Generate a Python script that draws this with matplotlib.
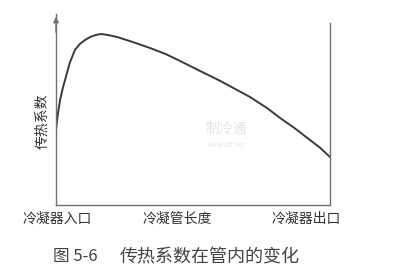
import matplotlib.pyplot as plt

plt.rcParams['font.family'] = ['Noto Sans CJK SC', 'DejaVu Sans']

# curve: position along tube (0..1) vs heat transfer coef (arbitrary units)
pos = [0.0, 0.004, 0.009, 0.015, 0.024, 0.033, 0.05, 0.069, 0.087, 0.106, 0.125, 0.145, 0.165,
       0.19, 0.223, 0.28, 0.343, 0.4, 0.453, 0.526, 0.6, 0.708, 0.77, 0.818, 0.87, 0.927, 0.965, 1.0]
coef = [75, 85, 95, 105, 116, 125, 142, 155, 161, 165, 168, 170, 171,
        170, 168, 163, 157, 151, 144, 134, 124, 108, 97, 87, 77, 65, 57, 48]

xlabels = ['冷凝器入口', '冷凝管长度', '冷凝器出口']
ylabel = '传热系数'
fig_no = '图 5-6'
caption = '传热系数在管内的变化'

W, H = 398, 270
fig = plt.figure(figsize=(W / 100, H / 100), dpi=100)
ax = fig.add_axes([56 / W, (H - 205) / H, 274 / W, 191 / H])
ax.set_xlim(0, 1)
ax.set_ylim(0, 191)

ax.plot(pos, coef, color='#3a3a3a', lw=1.4, solid_capstyle='round')

axcol = '#707070'
for s in ['top', 'right']:
    ax.spines[s].set_visible(False)
ax.spines['left'].set_color(axcol)
ax.spines['bottom'].set_color(axcol)
ax.spines['left'].set_linewidth(1.0)
ax.spines['bottom'].set_linewidth(1.0)
ax.set_xticks([])
ax.set_yticks([])

# right boundary line (condenser outlet)
ax.plot([1, 1], [0, 182], color=axcol, lw=1.0, clip_on=False)
# arrow on y axis
ax.annotate('', xy=(0, 191), xytext=(0, 170),
            arrowprops=dict(arrowstyle='-|>', color=axcol, lw=1.0, mutation_scale=8),
            annotation_clip=False)

fig.text(42 / W, 1 - 121 / H, ylabel, rotation=90, ha='center', va='center',
         fontsize=10, color='#333333')
for xp, lab in zip([57, 177, 306], xlabels):
    fig.text(xp / W, 1 - 219 / H, lab, ha='center', va='center', fontsize=10, color='#333333')
fig.text(53 / W, 1 - 257 / H, fig_no, ha='left', va='center', fontsize=12, color='#444444')
fig.text(120 / W, 1 - 257 / H, caption, ha='left', va='center', fontsize=13, color='#444444')

# faint watermark
fig.text(226 / W, 1 - 129 / H, '制冷通', ha='center', va='center', fontsize=10, color='#e4e4e4')
fig.text(226 / W, 1 - 145 / H, 'www.zlt.net', ha='center', va='center', fontsize=5, color='#e8e8e8')

fig.savefig('out.png', dpi=100, facecolor='white')
